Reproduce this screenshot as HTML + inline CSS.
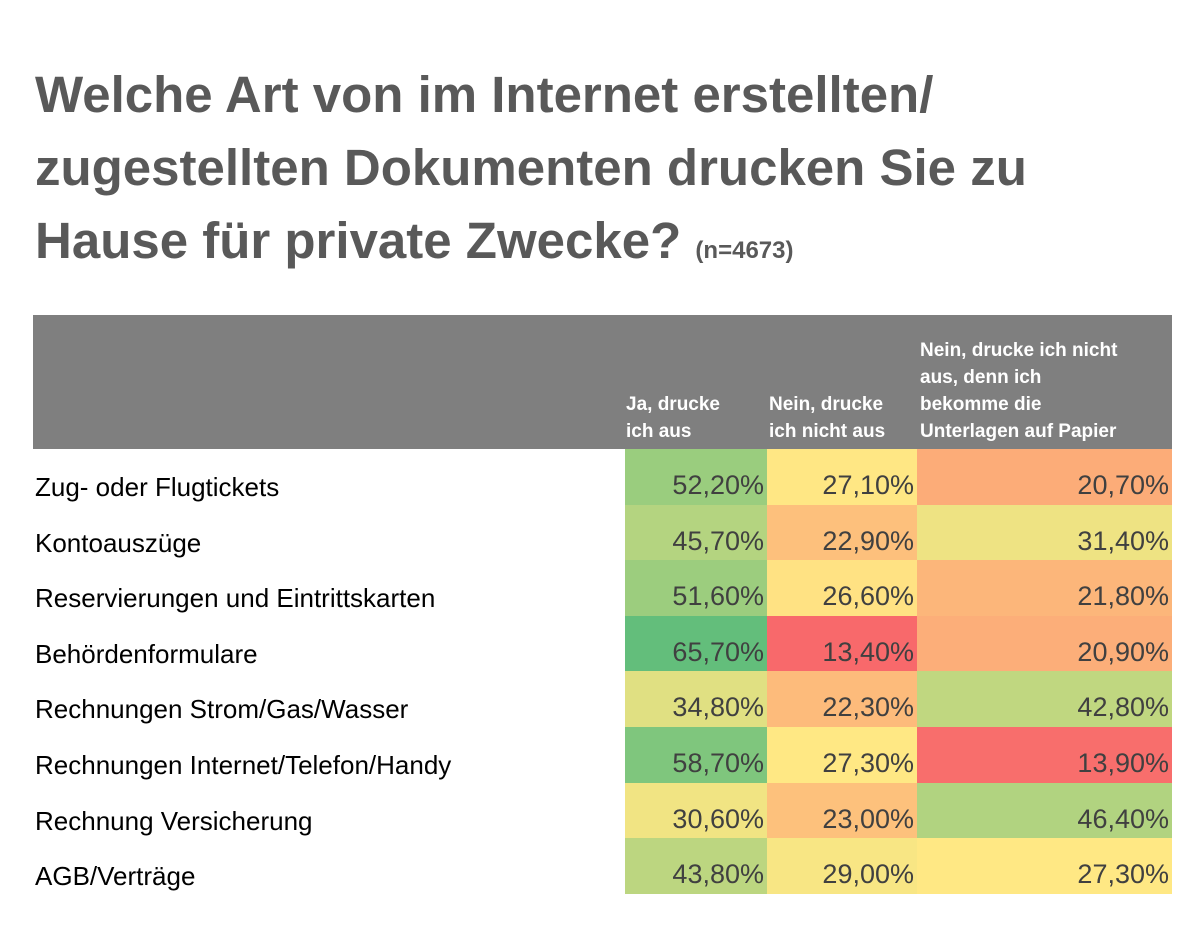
<!DOCTYPE html>
<html><head><meta charset="utf-8">
<style>
body{margin:0;width:1200px;height:933px;background:#fff;font-family:"Liberation Sans",sans-serif;position:relative;overflow:hidden}
#title{position:absolute;left:35px;top:58px;font-size:51px;font-weight:bold;color:#595959;line-height:73px;margin:0}
#title small{font-size:24px}
#hdr{position:absolute;left:33px;top:315px;width:1139px;height:134px;background:#7f7f7f}
.h{position:absolute;bottom:4px;color:#fff;font-weight:bold;font-size:19px;line-height:27px}
.cell{position:absolute;height:56px;font-size:27px;color:#404040;text-align:right;line-height:72px;box-sizing:border-box;padding-right:3px}
.lbl{position:absolute;left:35px;font-size:26px;color:#000;line-height:76px;height:56px}
</style></head><body>
<h1 id="title">Welche Art von im Internet erstellten/<br>zugestellten Dokumenten drucken Sie zu<br>Hause für private Zwecke? <small>(n=4673)</small></h1>
<div id="hdr">
<div class="h" style="left:593px">Ja, drucke<br>ich aus</div>
<div class="h" style="left:736px">Nein, drucke<br>ich nicht aus</div>
<div class="h" style="left:887px">Nein, drucke ich nicht<br>aus, denn ich<br>bekomme die<br>Unterlagen auf Papier</div>
</div>
<div id="tbl"></div>
<script>
const categories=["Zug- oder Flugtickets","Kontoauszüge","Reservierungen und Eintrittskarten","Behördenformulare","Rechnungen Strom/Gas/Wasser","Rechnungen Internet/Telefon/Handy","Rechnung Versicherung","AGB/Verträge"];
const ja=[52.2,45.7,51.6,65.7,34.8,58.7,30.6,43.8];
const nein=[27.1,22.9,26.6,13.4,22.3,27.3,23.0,29.0];
const papier=[20.7,31.4,21.8,20.9,42.8,13.9,46.4,27.3];
const series=[ja,nein,papier];
const colX=[625,767,917,1172];
const top0=449,rowH=55.6;
const all=series.flat();const mn=Math.min(...all),mx=Math.max(...all),mid=27.2;
function mix(a,b,t){return a.map((v,i)=>Math.round(v+(b[i]-v)*t));}
function color(v){const R=[248,105,107],Y=[255,232,132],G=[99,190,123];
 const c=v<mid?mix(R,Y,(v-mn)/(mid-mn)):mix(Y,G,(v-mid)/(mx-mid));return `rgb(${c})`;}
const tbl=document.getElementById('tbl');
categories.forEach((c,r)=>{
 const l=document.createElement('div');l.className='lbl';l.style.top=(top0+r*rowH)+'px';l.textContent=c;
 
 
 tbl.appendChild(l);
 series.forEach((s,k)=>{
  const d=document.createElement('div');d.className='cell';
  d.style.left=colX[k]+'px';d.style.width=(colX[k+1]-colX[k])+'px';
  d.style.top=(top0+r*rowH)+'px';d.style.height=(rowH+0.5)+'px';
  d.style.background=color(s[r]);
  d.textContent=s[r].toFixed(2).replace('.',',')+'%';
  
  
  tbl.appendChild(d);
 });
});
</script>
</body></html>
